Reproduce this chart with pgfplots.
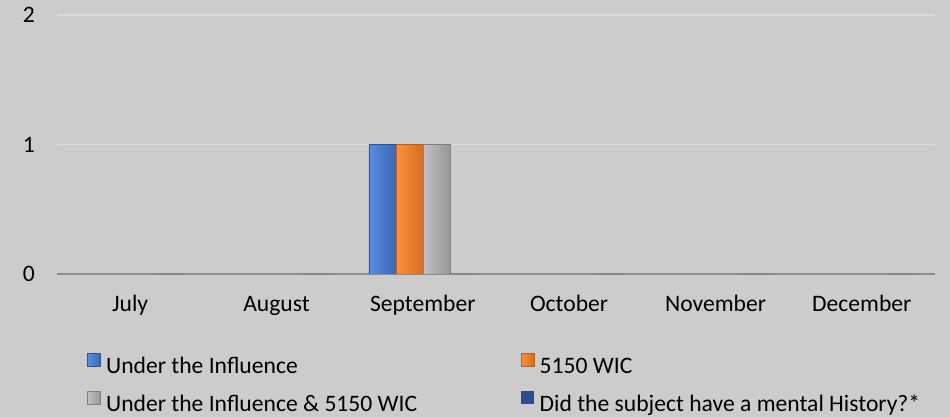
\documentclass[border=0pt]{standalone}
\usepackage{fontspec}
\setmainfont{Carlito}
\usepackage{pgfplots}
\pgfplotsset{compat=1.18}

\definecolor{bgc}{HTML}{CCCCCC}
\definecolor{gridc}{HTML}{DCDCDC}
\definecolor{axisc}{HTML}{8C8C8C}
\definecolor{blueL}{HTML}{5A8DE4}
\definecolor{blueD}{HTML}{3A66B4}
\definecolor{orL}{HTML}{FA913F}
\definecolor{orD}{HTML}{D86D22}
\definecolor{grL}{HTML}{C2C2C2}
\definecolor{grD}{HTML}{979797}
\definecolor{navy}{HTML}{2C4D8E}

\newcommand{\fs}{\fontsize{17.7}{21}\selectfont}

\begin{document}
\begin{tikzpicture}[font=\fs]
\fill[bgc] (-42.75pt,-107.25pt) rectangle (669.75pt,205.5pt);
\useasboundingbox (-42.75pt,-107.25pt) rectangle (669.75pt,205.5pt);
\begin{axis}[
  at={(0,0)}, anchor=south west,
  scale only axis,
  width=658.5pt, height=194.25pt,
  ybar=0pt, bar width=20.25pt,
  xmin=-0.5, xmax=5.5,
  ymin=0, ymax=2,
  xtick={0,1,2,3,4,5},
  xticklabels={July,August,September,October,November,December},
  ytick={0,1,2},
  yticklabels={0,1,2},
  ymajorgrids,
  grid style={color=gridc, line width=1.1pt},
  extra y ticks={0},
  extra y tick labels={},
  extra y tick style={grid style={color=axisc, line width=1.5pt}},
  axis line style={draw=none},
  major tick length=0pt,
  tick label style={font=\fs, text=black},
  yticklabel style={anchor=east, inner sep=0pt, xshift=-16.5pt},
  xticklabel style={anchor=base, inner sep=0pt, yshift=-28.5pt},
  legend image code/.code={\fill[#1] (0pt,0.5pt) rectangle (9.75pt,10.25pt);},
  legend columns=2,
  legend cell align=left,
  legend style={at={(0.0342,-0.305)}, anchor=north west,
    draw=none, fill=none, inner sep=0pt, row sep=9.5pt,
    font=\fs,
    nodes={inner sep=0pt, text height=13pt, text depth=4pt},
    /tikz/every odd column/.append style={column sep=4pt}},
]
\addplot[draw=blueD!80!black, line width=0.4pt, left color=blueL, right color=blueD,
  y filter/.expression={y==0 ? nan : y}]
  coordinates {(0,0) (1,0) (2,1) (3,0) (4,0) (5,0)};
\addlegendentry{\makebox[311pt][l]{Under the Influence}}
\addplot[draw=orD!85!black, line width=0.4pt, left color=orL, right color=orD,
  y filter/.expression={y==0 ? nan : y}]
  coordinates {(0,0) (1,0) (2,1) (3,0) (4,0) (5,0)};
\addlegendentry{5150 WIC}
\addplot[draw=grD!85!black, line width=0.4pt, left color=grL, right color=grD,
  y filter/.expression={y==0 ? nan : y}]
  coordinates {(0,0) (1,0) (2,1) (3,0) (4,0) (5,0)};
\addlegendentry{\makebox[311pt][l]{Under the Influence \& 5150 WIC}}
\addplot[draw=none, fill=navy]
  coordinates {(0,0) (1,0) (2,0) (3,0) (4,0) (5,0)};
\addlegendentry{Did the subject have a mental History?*}
\end{axis}
\end{tikzpicture}
\end{document}
